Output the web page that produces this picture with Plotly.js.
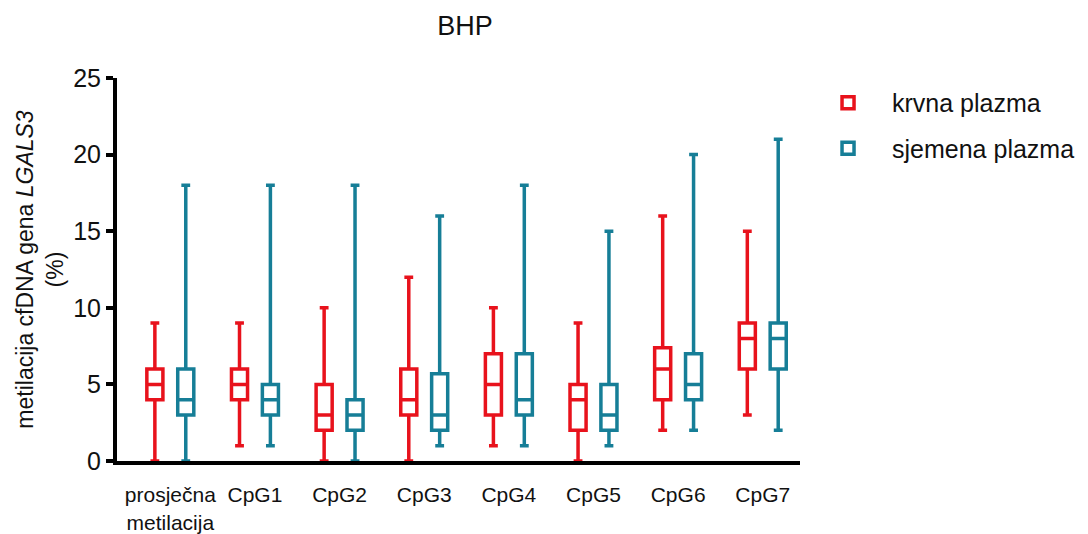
<!DOCTYPE html>
<html>
<head>
<meta charset="utf-8">
<script src="https://cdn.plot.ly/plotly-3.0.1.min.js"></script>
<style>html,body{margin:0;padding:0;background:#fff;}#chart{width:1088px;height:534px;}</style>
</head>
<body>
<div id="chart"></div>
<script>
// Categories (x tick labels)
const categories = ['prosječna<br>metilacija','CpG1','CpG2','CpG3','CpG4','CpG5','CpG6','CpG7'];

// krvna plazma (blood plasma) box statistics
const bloodMin    = [0, 1, 0, 0, 1, 0, 2, 3];
const bloodQ1     = [4, 4, 2, 3, 3, 2, 4, 6];
const bloodMedian = [5, 5, 3, 4, 5, 4, 6, 8];
const bloodQ3     = [6, 6, 5, 6, 7, 5, 7.4, 9];
const bloodMax    = [9, 9, 10, 12, 10, 9, 16, 15];

// sjemena plazma (seminal plasma) box statistics
const semenMin    = [0, 1, 0, 1, 1, 1, 2, 2];
const semenQ1     = [3, 3, 2, 2, 3, 2, 4, 6];
const semenMedian = [4, 4, 3, 3, 4, 3, 5, 8];
const semenQ3     = [6, 5, 4, 5.7, 7, 5, 7, 9];
const semenMax    = [18, 18, 18, 16, 18, 15, 20, 21];

const seriesNames = ['krvna plazma', 'sjemena plazma'];
const yTicks = [0, 5, 10, 15, 20, 25];

const RED = '#e8121c';
const TEAL = '#167e97';
const FONT = '"Liberation Sans", Arial, sans-serif';

function boxTrace(name, color, lo, q1, med, q3, hi, grp) {
  return {
    type: 'box',
    name: name,
    legendgroup: grp,
    x: categories,
    lowerfence: lo,
    q1: q1,
    median: med,
    q3: q3,
    upperfence: hi,
    boxpoints: false,
    whiskerwidth: 0.55,
    fillcolor: 'rgba(255,255,255,0)',
    line: {color: color, width: 3.5},
    hoverinfo: 'skip'
  };
}

const data = [
  boxTrace(seriesNames[0], RED, bloodMin, bloodQ1, bloodMedian, bloodQ3, bloodMax, 'a'),
  boxTrace(seriesNames[1], TEAL, semenMin, semenQ1, semenMedian, semenQ3, semenMax, 'b')
];

const layout = {
  width: 1088,
  height: 534,
  paper_bgcolor: '#fff',
  plot_bgcolor: '#fff',
  font: {family: FONT, color: '#111', size: 22},
  margin: {l: 117, r: 288, t: 78, b: 73},
  title: {
    text: 'BHP',
    font: {family: FONT, size: 27, color: '#111'},
    x: 0.4274, xref: 'container', xanchor: 'center',
    y: 0.953, yref: 'container', yanchor: 'middle'
  },
  boxmode: 'group',
  boxgap: 0.27,
  boxgroupgap: 0.48,
  xaxis: {
    type: 'category',
    range: [-0.63, 7.44],
    showgrid: false,
    zeroline: false,
    showline: true,
    linecolor: '#000',
    linewidth: 4,
    ticks: '',
    ticklabelstandoff: 12,
    tickfont: {family: FONT, size: 21, color: '#111'},
    fixedrange: true
  },
  yaxis: {
    range: [0, 25],
    tickvals: yTicks,
    ticktext: yTicks.map(String),
    showgrid: false,
    zeroline: false,
    showline: true,
    linecolor: '#000',
    linewidth: 4,
    ticks: 'outside',
    ticklen: 7,
    tickwidth: 4,
    tickcolor: '#000',
    tickfont: {family: FONT, size: 25, color: '#111'},
    title: {
      text: 'metilacija cfDNA gena <i>LGALS3</i><br>(%)',
      font: {family: FONT, size: 23, color: '#111'},
      standoff: 4
    },
    fixedrange: true
  },
  showlegend: true,
  legend: {
    xref: 'container', x: 0.739, xanchor: 'left',
    y: 0.995, yanchor: 'top',
    traceorder: 'grouped',
    tracegroupgap: 10,
    itemwidth: 78,
    font: {family: FONT, size: 25, color: '#111'},
    bgcolor: 'rgba(0,0,0,0)'
  }
};

Plotly.newPlot('chart', data, layout, {displayModeBar: false, staticPlot: true});
</script>
</body>
</html>
